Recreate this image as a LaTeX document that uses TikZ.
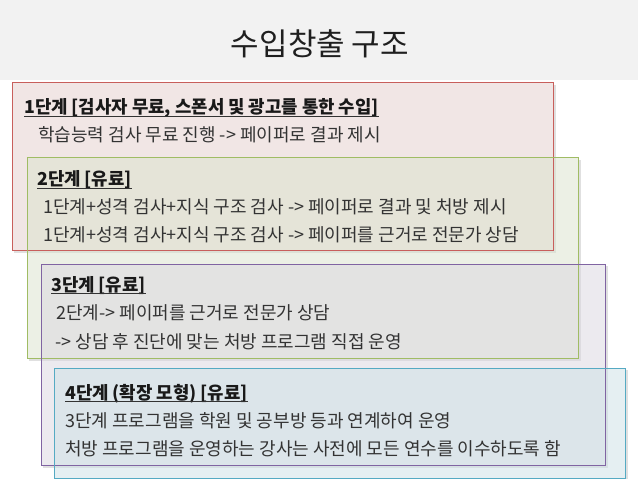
\documentclass[tikz,border=0pt]{standalone}
\usepackage{fontspec}
\setmainfont{Noto Sans CJK KR}
\begin{document}
\begin{tikzpicture}[x=1bp,y=-1bp,
  body/.style={anchor=base west, inner sep=0pt, text=black!80,
    font=\fontsize{18bp}{22bp}\selectfont},
  hdr/.style={body, text=black!90, font=\fontsize{17.8bp}{22bp}\selectfont\bfseries},
  uline/.style={line width=0.9bp, black!80},
  shade/.style={line width=2bp, black, opacity=0.12},
  bxline/.style={line width=1bp}]
\definecolor{bgray}{HTML}{F2F2F2}
\definecolor{redB}{RGB}{200,95,92}
\definecolor{redF}{RGB}{229,207,205}
\definecolor{grnB}{RGB}{160,188,100}
\definecolor{grnF}{RGB}{219,227,205}
\definecolor{purB}{RGB}{128,100,162}
\definecolor{purF}{RGB}{219,215,225}
\definecolor{tealB}{RGB}{85,170,195}
\definecolor{tealF}{RGB}{205,225,231}
\useasboundingbox (0,0) rectangle (638,479);
\fill[white] (0,0) rectangle (638,479);
% title band
\fill[bgray] (0,0) rectangle (638,80);
\node[anchor=base, inner sep=0pt, text=black!88,
  font=\fontsize{31bp}{36bp}\selectfont] (title) at (320,56) {수입창출 구조};
% shadows
\draw[shade] (14,252) -- (555,252) -- (555,85);
\draw[shade] (29,360) -- (580,360) -- (580,160);
\draw[shade] (43,467) -- (607,467) -- (607,266);
\draw[shade] (56,480) -- (627,480) -- (627,370);
% fills
\fill[redF, fill opacity=0.5] (12,83) rectangle (553,250);
\fill[grnF, fill opacity=0.5] (27,158) rectangle (578,358);
\fill[purF, fill opacity=0.5] (41,264) rectangle (605,465);
\fill[tealF, fill opacity=0.5] (54,368) rectangle (625,478);
% borders
\draw[bxline, redB] (12,83) rectangle (553,250);
\draw[bxline, grnB] (27,158) rectangle (578,358);
\draw[bxline, purB] (41,264) rectangle (605,465);
\draw[bxline, tealB] (54,368) rectangle (625,478);
% texts box 1
\node[hdr] (h1) at (24,114) {1단계 [검사자 무료, 스폰서 및 광고를 통한 수입]};
\draw[uline] ([yshift=-2.5bp]h1.base west) -- ([yshift=-2.5bp]h1.base east);
\node[body] (t11) at (38,142) {학습능력 검사 무료 진행 -> 페이퍼로 결과 제시};
% box 2
\node[hdr] (h2) at (37,186) {2단계 [유료]};
\draw[uline] ([yshift=-2.5bp]h2.base west) -- ([yshift=-2.5bp]h2.base east);
\node[body] (t21) at (43,214) {1단계+성격 검사+지식 구조 검사 -> 페이퍼로 결과 및 처방 제시};
\node[body] (t22) at (43,242) {1단계+성격 검사+지식 구조 검사 -> 페이퍼를 근거로 전문가 상담};
% box 3
\node[hdr] (h3) at (51,291) {3단계 [유료]};
\draw[uline] ([yshift=-2.5bp]h3.base west) -- ([yshift=-2.5bp]h3.base east);
\node[body] (t31) at (56,319) {2단계-> 페이퍼를 근거로 전문가 상담};
\node[body] (t32) at (55,348) {-> 상담 후 진단에 맞는 처방 프로그램 직접 운영};
% box 4
\node[hdr] (h4) at (65,399) {4단계 (확장 모형) [유료]};
\draw[uline] ([yshift=-2.5bp]h4.base west) -- ([yshift=-2.5bp]h4.base east);
\node[body] (t41) at (65,427) {3단계 프로그램을 학원 및 공부방 등과 연계하여 운영};
\node[body] (t42) at (65,455) {처방 프로그램을 운영하는 강사는 사전에 모든 연수를 이수하도록 함};
\end{tikzpicture}
\end{document}
